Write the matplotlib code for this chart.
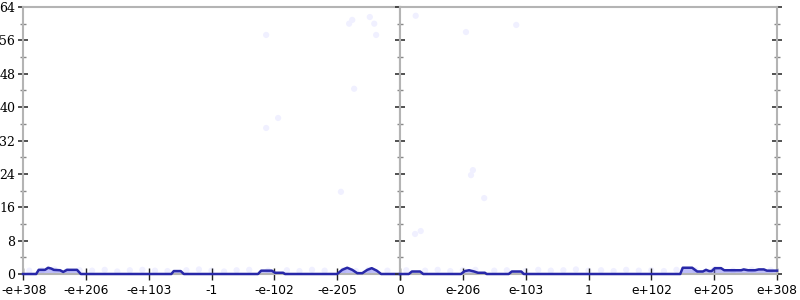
import matplotlib
matplotlib.use("Agg")
from matplotlib import pyplot as plt
from matplotlib import transforms
from matplotlib.ticker import MultipleLocator

# tick positions are in "decade slot" units, 0..6 per panel
neg_labels = ["-e+308", "-e+206", "-e+103", "-1", "-e-102", "-e-205", "0"]
pos_labels = ["", "e-206", "e-103", "1", "e+102", "e+205", "e+308"]

# mean line, negative half
neg_x = [0.00, 0.21, 0.25, 0.35, 0.40, 0.45, 0.49, 0.59, 0.64, 0.70, 0.86, 0.92,
         2.36, 2.40, 2.51, 2.56, 3.74, 3.79, 3.96, 4.01, 4.14, 4.17,
         5.00, 5.08, 5.16, 5.24, 5.32, 5.40, 5.48, 5.55, 5.63, 5.70, 6.00]
neg_y = [0.0, 0.0, 1.0, 1.0, 1.5, 1.3, 1.0, 0.9, 0.5, 1.0, 1.0, 0.0,
         0.0, 0.7, 0.7, 0.0, 0.0, 0.8, 0.8, 0.3, 0.3, 0.0,
         0.0, 1.0, 1.5, 1.0, 0.2, 0.2, 1.0, 1.4, 0.8, 0.0, 0.0]

# mean line, positive half
pos_x = [0.00, 0.14, 0.19, 0.32, 0.37, 0.97, 1.03, 1.10, 1.18, 1.24, 1.35, 1.38,
         1.73, 1.78, 1.93, 1.97, 4.46, 4.50, 4.65, 4.73, 4.82, 4.87, 4.92, 4.96,
         5.01, 5.11, 5.16, 5.43, 5.47, 5.54, 5.65, 5.71, 5.79, 5.84, 6.00]
pos_y = [0.0, 0.0, 0.6, 0.6, 0.0, 0.0, 0.7, 0.9, 0.6, 0.3, 0.3, 0.0,
         0.0, 0.6, 0.6, 0.0, 0.0, 1.5, 1.5, 0.6, 0.6, 1.0, 0.7, 0.7,
         1.4, 1.4, 0.9, 0.9, 1.1, 0.9, 0.9, 1.1, 1.1, 0.8, 0.8]

# faint individual samples
neg_pts_x = [0.1, 0.3, 0.5, 0.7, 0.9, 1.1, 1.3, 1.5, 1.7, 1.9, 2.1, 2.3, 2.6, 2.8, 3.0,
             3.2, 3.4, 3.6, 3.9, 4.2, 4.4, 4.6, 4.8, 5.1, 5.3, 5.5, 5.8,
             3.87, 4.06, 5.27, 5.06, 5.24, 5.19, 5.52, 5.59, 3.87, 5.62]
neg_pts_y = [0.8, 0.9, 1.1, 0.7, 0.9, 0.8, 1.0, 0.6, 0.9, 1.0, 0.8, 0.7, 0.9, 1.1, 0.8,
             0.6, 0.9, 1.0, 0.8, 0.9, 0.7, 1.0, 0.8, 0.9, 0.7, 1.0, 0.8,
             35.0, 37.4, 44.4, 19.7, 60.9, 60.0, 61.6, 60.0, 57.3, 57.3]
pos_pts_x = [0.1, 0.4, 0.6, 0.8, 1.0, 1.2, 1.5, 1.7, 2.0, 2.2, 2.4, 2.6, 2.8, 3.0, 3.2,
             3.4, 3.6, 3.8, 4.0, 4.2, 4.4, 4.7, 5.0, 5.3, 5.6, 5.9,
             0.25, 1.85, 1.05, 1.16, 1.13, 1.34, 0.24, 0.33]
pos_pts_y = [0.9, 0.8, 1.0, 0.7, 0.9, 1.0, 0.8, 0.9, 0.7, 1.0, 0.8, 0.9, 1.1, 0.8, 0.9,
             0.7, 1.0, 0.8, 0.9, 0.7, 1.0, 0.9, 1.1, 0.8, 1.0, 0.9,
             61.9, 59.7, 58.0, 24.9, 23.7, 18.2, 9.6, 10.3]

LINE = "#2828a8"
FILL = "#7070f0"
DOT = "#f0f0ff"
SPINE = "#b4b4b4"

fig = plt.figure(figsize=(8, 3), dpi=100)
left = 23 / 800
width = (400 - 23) / 800
bottom = 26 / 300
height = 267 / 300
ax_neg = fig.add_axes([left, bottom, width, height])
ax_pos = fig.add_axes([left + width, bottom, width, height])

panels = [
    (ax_neg, neg_x, neg_y, neg_pts_x, neg_pts_y, neg_labels),
    (ax_pos, pos_x, pos_y, pos_pts_x, pos_pts_y, pos_labels),
]
for ax, lx, ly, px, py, labels in panels:
    ax.scatter(px, py, s=20, color=DOT, edgecolors="none", zorder=1, clip_on=False)
    ax.fill_between(lx, ly, 0, color=FILL, alpha=0.45, linewidth=0, zorder=2)
    ax.plot(lx, ly, color=LINE, linewidth=1.8, zorder=3, clip_on=False)
    ax.set_xlim(0, 6)
    ax.set_ylim(0, 64)
    ax.set_xticks(range(7))
    ax.set_xticklabels(labels, fontsize=8.8, family="DejaVu Sans")
    ax.yaxis.set_major_locator(MultipleLocator(8))
    ax.yaxis.set_minor_locator(MultipleLocator(4))
    for side in ["top", "bottom", "left", "right"]:
        ax.spines[side].set_color(SPINE)
        ax.spines[side].set_linewidth(1.5)
    ax.tick_params(axis="x", direction="inout", length=8, width=1, color="#222222", pad=3)
    ax.tick_params(axis="y", which="major", direction="inout", length=7, width=1.2,
                   color="#333333", pad=2)
    ax.tick_params(axis="y", which="minor", direction="inout", length=4, width=1,
                   color="#888888")
    ax.set_facecolor("white")

ax_neg.tick_params(axis="y", left=True, right=False, labelleft=True)
ax_neg.tick_params(axis="y", which="minor", left=True, right=False)
for lbl in ax_neg.get_yticklabels():
    lbl.set_family("DejaVu Serif")
    lbl.set_fontsize(9)
ax_pos.tick_params(axis="y", which="both", left=True, right=True, labelleft=False)

# keep the first label inside the canvas
first = ax_neg.get_xticklabels()[0]
first.set_horizontalalignment("left")
first.set_transform(first.get_transform()
                    + transforms.ScaledTranslation(-22 / 100, 0, fig.dpi_scale_trans))

fig.savefig("out.png", dpi=100)
